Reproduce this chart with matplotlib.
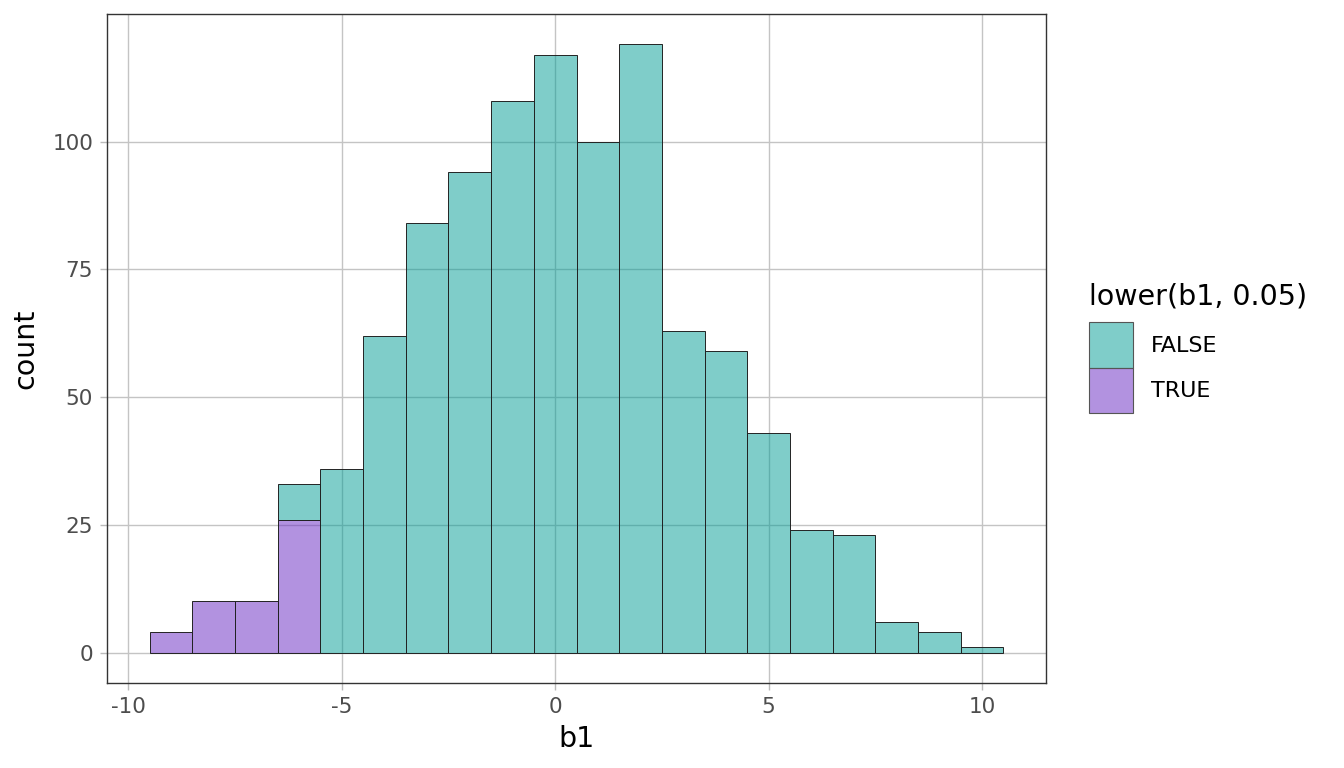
import numpy as np
import matplotlib.pyplot as plt
from matplotlib.patches import Patch

# bin centres (binwidth 1) and stacked counts
bins = [-9, -8, -7, -6, -5, -4, -3, -2, -1, 0, 1, 2, 3, 4, 5, 6, 7, 8, 9, 10]
true_counts = [4, 10, 10, 26, 0, 0, 0, 0, 0, 0, 0, 0, 0, 0, 0, 0, 0, 0, 0, 0]
false_counts = [0, 0, 0, 7, 36, 62, 84, 94, 108, 117, 100, 119, 63, 59, 43, 24, 23, 6, 4, 1]
legend_title = "lower(b1, 0.05)"
legend_labels = ["FALSE", "TRUE"]

teal = (0.0, 0.61, 0.585, 0.5)
purple = (0.40, 0.15, 0.76, 0.5)

plt.rcParams['font.family'] = ['DejaVu Sans']
plt.rcParams['axes.unicode_minus'] = False
fig = plt.figure(figsize=(13.44, 7.68), dpi=100)
ax = fig.add_axes([107/1344, 1-683/768, (1046-107)/1344, (683-14)/768])

ax.grid(True, color='#c4c4c4', linewidth=1.0, zorder=0)
ax.set_axisbelow(True)

b = np.array(bins)
t = np.array(true_counts)
f = np.array(false_counts)
mt = t > 0
ax.bar(b[mt], t[mt], width=1, color=purple, edgecolor='#222222', linewidth=0.7, zorder=2)
mf = f > 0
ax.bar(b[mf], f[mf], width=1, bottom=t[mf], color=teal, edgecolor='#222222', linewidth=0.7, zorder=2)

ax.set_xlim(-10.5, 11.5)
ax.set_ylim(-5.95, 124.95)
ax.set_xticks([-10, -5, 0, 5, 10])
ax.set_yticks([0, 25, 50, 75, 100])
ax.tick_params(labelcolor='#4d4d4d', labelsize=15.5, length=5, width=1, color='#bbbbbb', pad=5)
for s in ax.spines.values():
    s.set_color('#333333')
    s.set_linewidth(1.0)

ax.set_xlabel('b1', fontsize=20.5, color='black', labelpad=6)
ax.set_ylabel('count', fontsize=20.5, color='black', labelpad=9)

handles = [Patch(facecolor=teal, edgecolor='#555555', linewidth=0.8),
           Patch(facecolor=purple, edgecolor='#555555', linewidth=0.8)]
leg = fig.legend(handles, legend_labels, title=legend_title, loc='upper left',
                 bbox_to_anchor=(1089/1344, 1-283/768), frameon=False,
                 fontsize=16, title_fontsize=20.5, handlelength=2.0, handleheight=2.78,
                 handletextpad=0.8, labelspacing=0.0, borderaxespad=0, borderpad=0)
leg._legend_box.align = 'left'
leg._legend_box.sep = 8

fig.savefig('out.png', dpi=100)
